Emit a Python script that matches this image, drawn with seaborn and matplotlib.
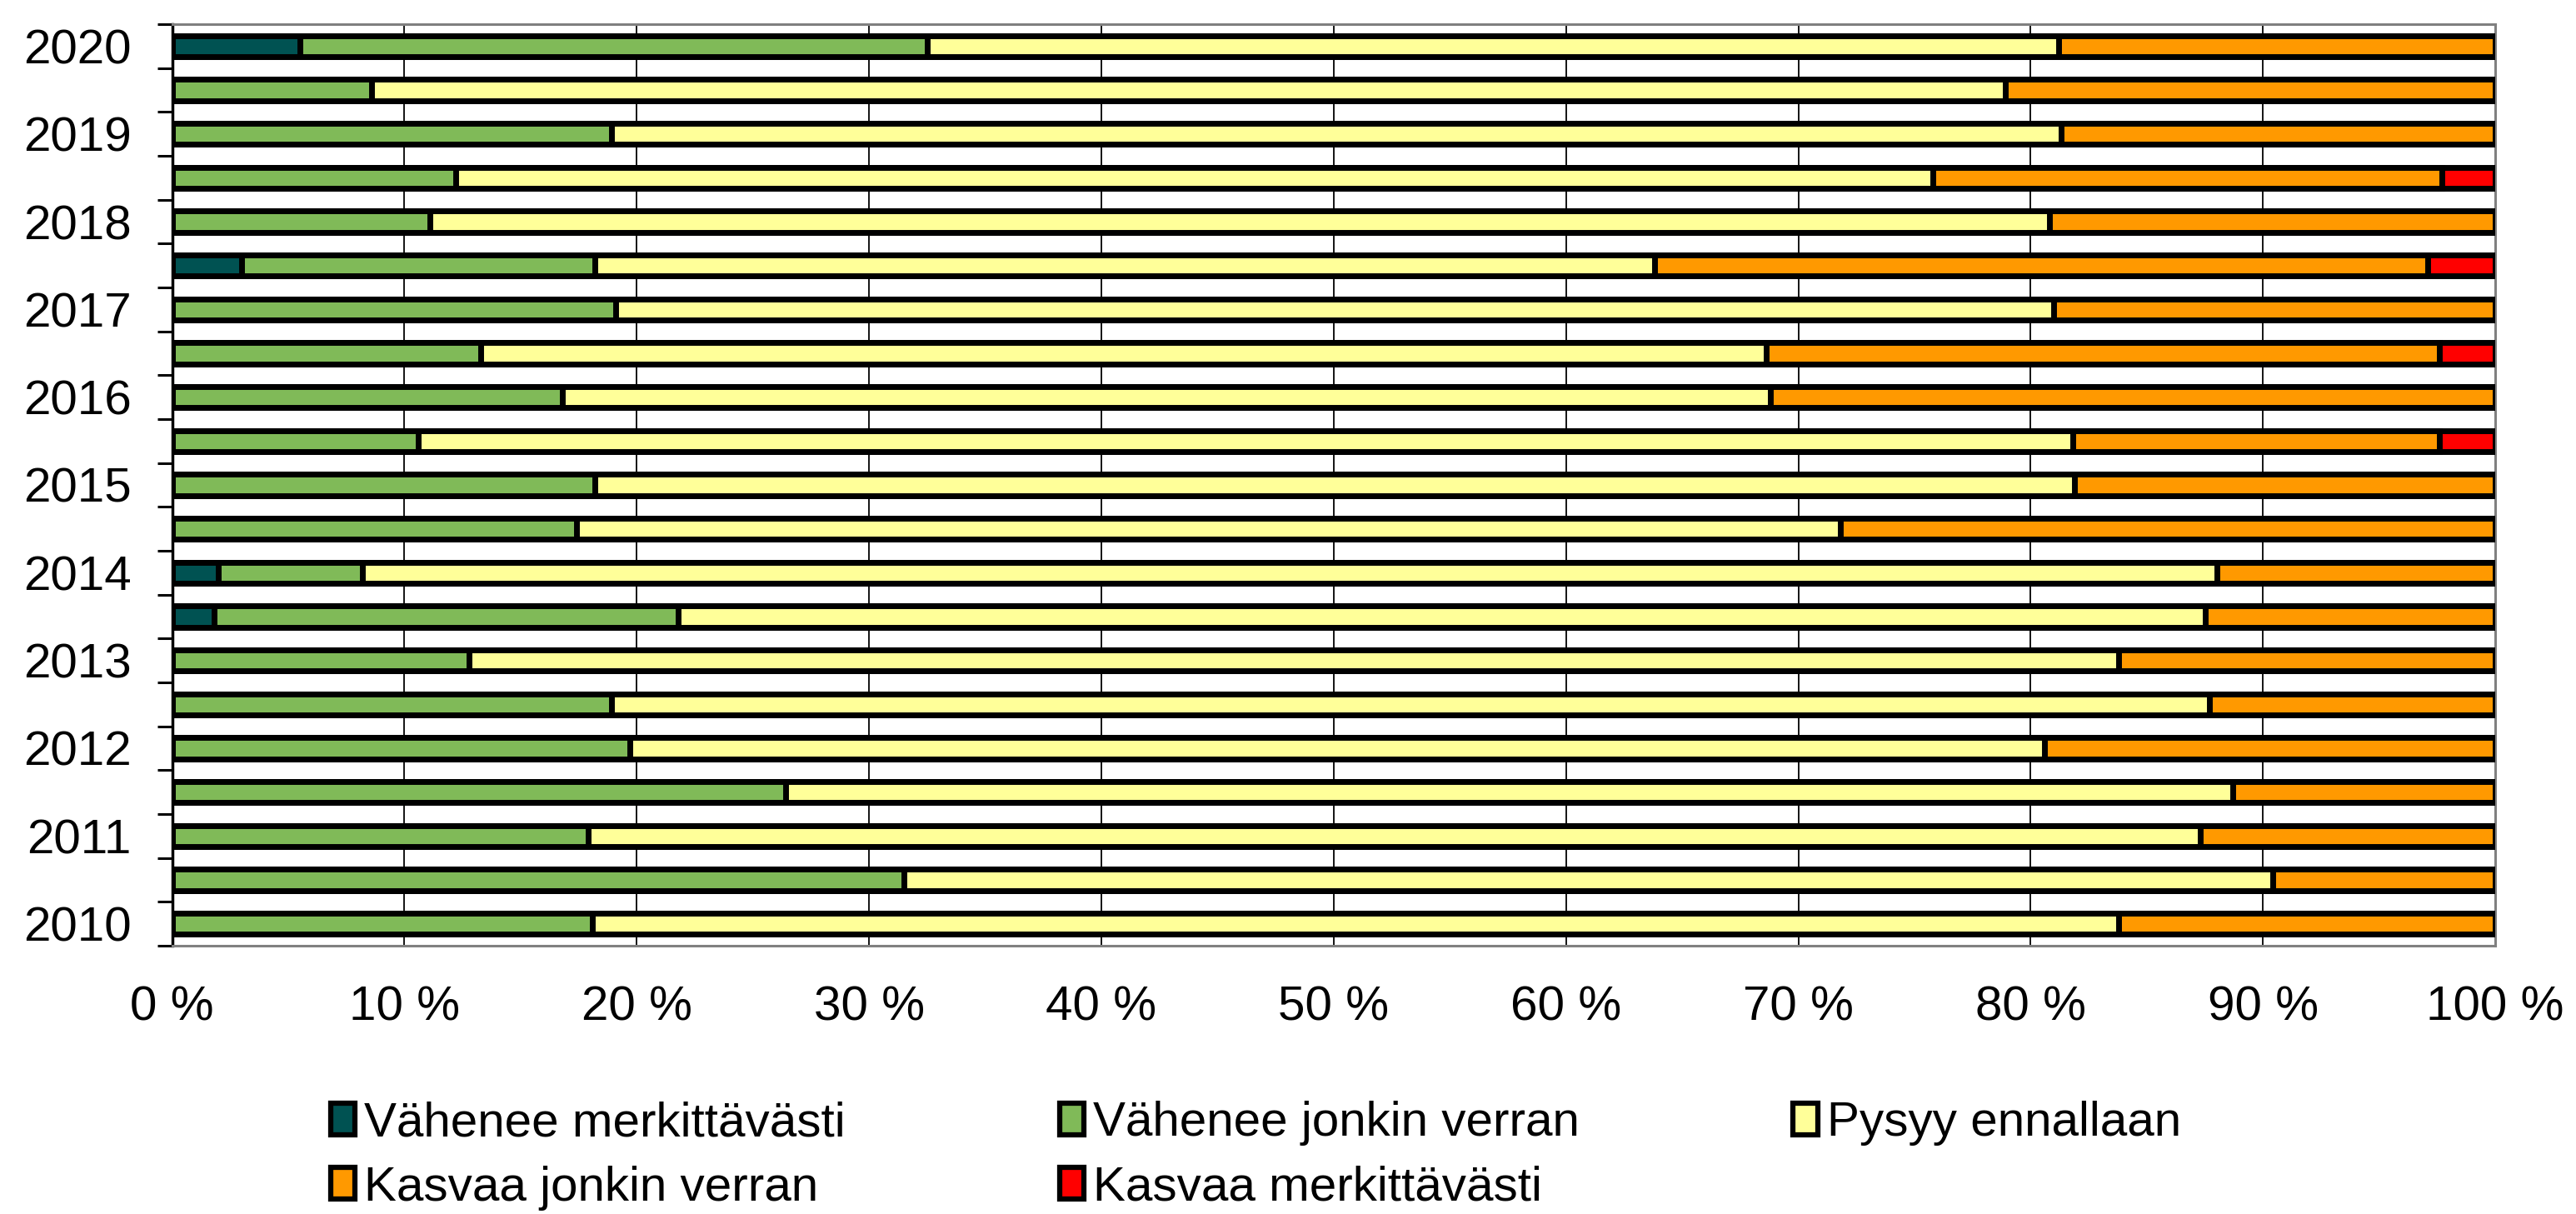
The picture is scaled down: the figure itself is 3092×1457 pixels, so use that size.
import numpy as np
import pandas as pd
import matplotlib
matplotlib.use("Agg")
import matplotlib.pyplot as plt
from matplotlib.patches import Patch
import seaborn as sns

# survey rounds, top to bottom (two rounds a year, the later one unlabeled)
rows = ["2020/1"]
for y in range(2019, 2009, -1):
    rows += [f"{y}/2", f"{y}/1"]

categories = ["Vähenee merkittävästi", "Vähenee jonkin verran", "Pysyy ennallaan",
              "Kasvaa jonkin verran", "Kasvaa merkittävästi"]
colors = ["#005252", "#80BA58", "#FFFF99", "#FF9900", "#FF0000"]

# shares in percent, one value per row
v_merk = [5.5, 0, 0, 0, 0, 3.0, 0, 0, 0, 0, 0, 0, 2.0, 1.8, 0, 0, 0, 0, 0, 0, 0]
v_jonk = [27.0, 8.6, 18.9, 12.2, 11.1, 15.2, 19.1, 13.3, 16.8, 10.6, 18.2,
          17.4, 6.2, 20.0, 12.8, 18.9, 19.7, 26.4, 17.9, 31.5, 18.1]
pysyy = [48.7, 70.3, 62.4, 63.6, 69.7, 45.6, 61.9, 55.3, 52.0, 71.2, 63.7,
         54.4, 79.8, 65.7, 71.0, 68.8, 60.9, 62.3, 69.4, 58.9, 65.7]
k_jonk = [18.8, 21.1, 18.7, 21.9, 19.2, 33.3, 19.0, 29.0, 31.2, 15.8, 18.1,
          28.2, 12.0, 12.5, 16.2, 12.3, 19.4, 11.3, 12.7, 9.6, 16.2]
k_merk = [0, 0, 0, 2.3, 0, 2.9, 0, 2.4, 0, 2.4, 0, 0, 0, 0, 0, 0, 0, 0, 0, 0, 0]

df = pd.DataFrame({"row": rows, categories[0]: v_merk, categories[1]: v_jonk,
                   categories[2]: pysyy, categories[3]: k_jonk, categories[4]: k_merk})
cum = df[categories].cumsum(axis=1)

sns.set_style("white")
plt.rcParams["font.family"] = ["Liberation Sans", "DejaVu Sans"]
plt.rcParams["text.color"] = "black"
plt.rcParams["xtick.color"] = "black"
plt.rcParams["ytick.color"] = "black"

fig = plt.figure(figsize=(30.92, 14.57), dpi=100)
ax = fig.add_axes([0.0668, 0.2211, 0.9019, 0.7589])

# stacked bars: draw cumulative totals from the longest to the shortest
for cat, col in reversed(list(zip(categories, colors))):
    sns.barplot(x=cum[cat], y=df["row"], color=col, orient="h", width=0.48,
                saturation=1, errorbar=None, ax=ax, zorder=3,
                edgecolor="black", linewidth=5)

ax.set_xlim(0, 100)
ax.set_ylim(20.5, -0.5)
ax.set_xticks(np.arange(0, 101, 10))
ax.set_xticklabels([f"{v} %" for v in range(0, 101, 10)])
ax.set_yticks(range(len(rows)))
ax.set_yticklabels([r.split("/")[0] if r.endswith("/1") else "" for r in rows])
ax.set_yticks(np.arange(-0.5, len(rows), 1), minor=True)
ax.tick_params(axis="x", length=0, pad=34, labelsize=42)
ax.tick_params(axis="y", which="major", left=False, length=0, pad=35, labelsize=42)
ax.tick_params(axis="y", which="minor", left=True, length=13, width=2.2,
               direction="out", color="black")
ax.set_xlabel("")
ax.set_ylabel("")

ax.grid(axis="x", color="black", linewidth=1.3)
ax.set_axisbelow(True)
for side in ["top", "right", "bottom"]:
    ax.spines[side].set_color("#808080")
    ax.spines[side].set_linewidth(2.2)
ax.spines["left"].set_color("black")
ax.spines["left"].set_linewidth(2.5)

handles = [Patch(facecolor=c, edgecolor="black", linewidth=4.5, label=l)
           for l, c in zip(categories, colors)]
order = [0, 3, 1, 4, 2]
fig.legend([handles[i] for i in order], [categories[i] for i in order],
           ncol=3, loc="upper left", bbox_to_anchor=(0.1284, 0.093), frameon=False,
           fontsize=42, handlelength=0.5, handleheight=0.63, handletextpad=0.19,
           columnspacing=4.4, labelspacing=0.4, borderpad=0, borderaxespad=0)

fig.savefig("out.png", dpi=100)
